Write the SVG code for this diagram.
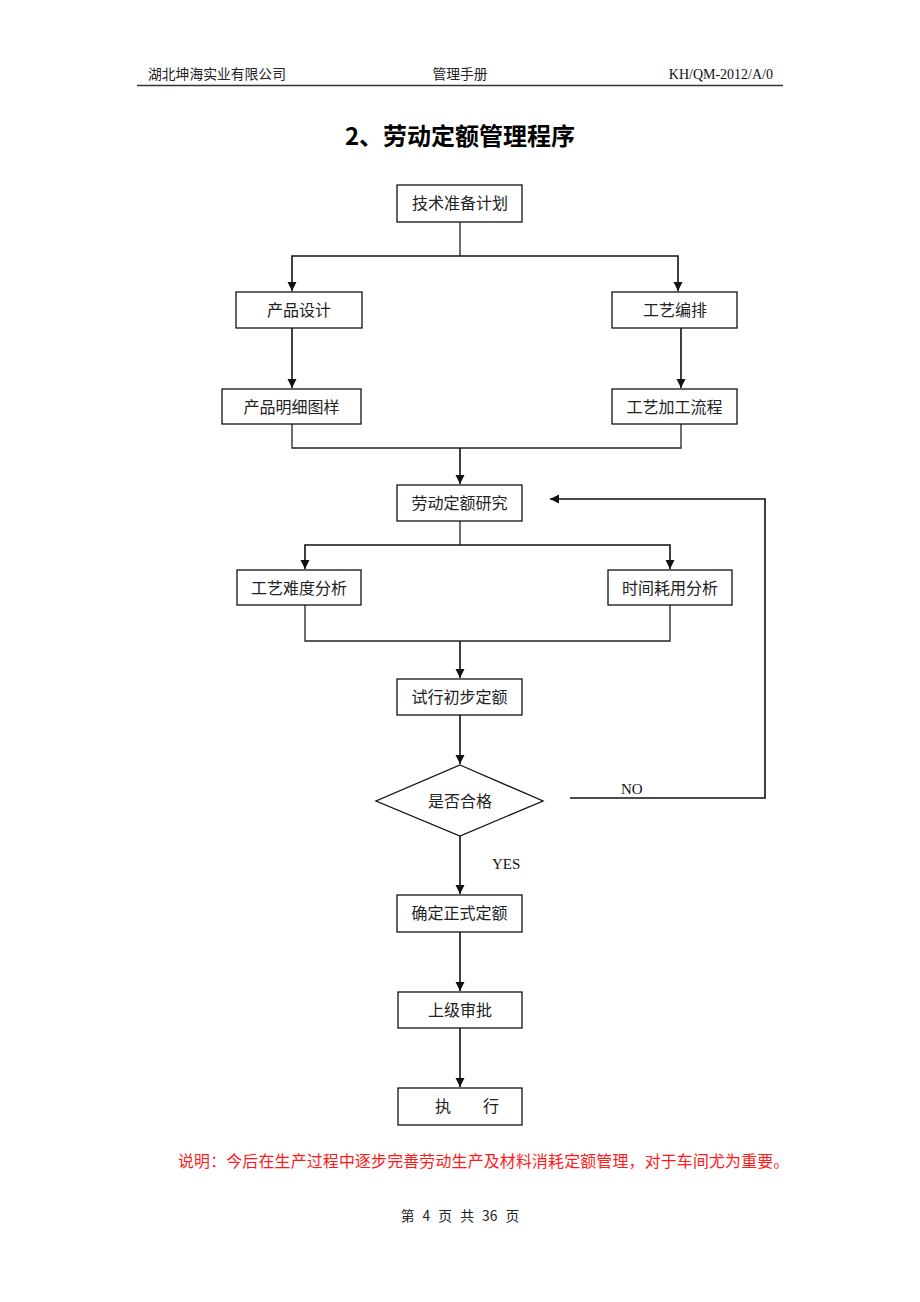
<svg xmlns="http://www.w3.org/2000/svg" width="920" height="1302" viewBox="0 0 920 1302">
<style>
.bg{fill:#fff}
.box{fill:#fff;stroke:#111;stroke-width:1.3}
.t{font-family:"Noto Sans CJK SC","Noto Sans",sans-serif;font-size:16px;fill:#222;text-anchor:middle}
.hdr{font-family:"Noto Sans CJK SC",sans-serif;font-size:13.8px;fill:#222}
.lat{font-family:"Liberation Serif","Noto Sans CJK SC",serif;fill:#111}
.ln{fill:none;stroke:#222;stroke-width:1.3}
.ar{fill:none;stroke:#111;stroke-width:1.6;marker-end:url(#ah)}
</style>
<defs>
<marker id="ah" viewBox="0 0 10 10" refX="10" refY="5" markerWidth="9" markerHeight="10" markerUnits="userSpaceOnUse" orient="auto">
<path d="M0,0 L10,5 L0,10 z" fill="#111"/>
</marker>
</defs>
<rect class="bg" x="0" y="0" width="920" height="1302"/>
<g id="header">
<text class="hdr" x="148" y="79">湖北坤海实业有限公司</text>
<text class="hdr" x="460" y="79" text-anchor="middle">管理手册</text>
<text class="lat" x="773" y="79" font-size="14" text-anchor="end">KH/QM-2012/A/0</text>
<line x1="137" y1="85.5" x2="783" y2="85.5" stroke="#333" stroke-width="1.6"/>
</g>
<g id="title">
<text x="460" y="145" font-family="Noto Sans CJK SC,sans-serif" font-size="24" font-weight="bold" fill="#000" text-anchor="middle">2、劳动定额管理程序</text>
</g>
<g id="connectors">
<polyline class="ln" points="460,222 460,256"/>
<polyline class="ar" points="460,256 292,256 292,291"/>
<polyline class="ar" points="460,256 678,256 678,291"/>
<polyline class="ar" points="292,328 292,388"/>
<polyline class="ar" points="681,328 681,388"/>
<polyline class="ln" points="292,424 292,448 681,448 681,424"/>
<polyline class="ar" points="460,448 460,484"/>
<polyline class="ln" points="460,521 460,545"/>
<polyline class="ar" points="460,545 305,545 305,569"/>
<polyline class="ar" points="460,545 670,545 670,569"/>
<polyline class="ln" points="305,605 305,641 670,641 670,605"/>
<polyline class="ar" points="460,641 460,678"/>
<polyline class="ar" points="460,715 460,764"/>
<polyline class="ar" points="570,798 765,798 765,499 550,499"/>
<text class="lat" x="621" y="794" font-size="15">NO</text>
<polyline class="ar" points="460,836 460,894"/>
<text class="lat" x="492" y="869" font-size="15">YES</text>
<polyline class="ar" points="460,932 460,991"/>
<polyline class="ar" points="460,1028 460,1087"/>
</g>
<g id="n1"><rect class="box" x="397" y="185" width="125" height="37"/><text class="t" x="460" y="209">技术准备计划</text></g>
<g id="n2"><rect class="box" x="236" y="292" width="126" height="36"/><text class="t" x="299" y="316">产品设计</text></g>
<g id="n3"><rect class="box" x="612" y="292" width="125" height="36"/><text class="t" x="675" y="316">工艺编排</text></g>
<g id="n4"><rect class="box" x="222" y="389" width="139" height="35"/><text class="t" x="291.5" y="413">产品明细图样</text></g>
<g id="n5"><rect class="box" x="612" y="389" width="125" height="35"/><text class="t" x="674.5" y="413">工艺加工流程</text></g>
<g id="n6"><rect class="box" x="397" y="485" width="125" height="36"/><text class="t" x="459.5" y="509">劳动定额研究</text></g>
<g id="n7"><rect class="box" x="237" y="570" width="124" height="35"/><text class="t" x="299" y="594">工艺难度分析</text></g>
<g id="n8"><rect class="box" x="608" y="570" width="124" height="35"/><text class="t" x="670" y="594">时间耗用分析</text></g>
<g id="n9"><rect class="box" x="397" y="679" width="125" height="36"/><text class="t" x="459.5" y="703">试行初步定额</text></g>
<g id="n10"><polygon class="box" points="460,765 543,801 460,836 376,801"/><text class="t" x="460" y="807">是否合格</text></g>
<g id="n11"><rect class="box" x="397" y="895" width="125" height="37"/><text class="t" x="459.5" y="919">确定正式定额</text></g>
<g id="n12"><rect class="box" x="398" y="992" width="124" height="36"/><text class="t" x="460" y="1016">上级审批</text></g>
<g id="n13"><rect class="box" x="398" y="1088" width="124" height="37"/><text class="t" x="443" y="1112">执</text><text class="t" x="491" y="1112">行</text></g>
<g id="note">
<text x="178" y="1167" font-family="Noto Sans CJK SC,sans-serif" font-size="15.9" letter-spacing="0.2" fill="#ff1a1a">说明：今后在生产过程中逐步完善劳动生产及材料消耗定额管理，对于车间尤为重要。</text>
</g>
<g id="footer">
<text class="hdr" x="460" y="1221" text-anchor="middle" word-spacing="5">第 4 页 共 36 页</text>
</g>
</svg>
